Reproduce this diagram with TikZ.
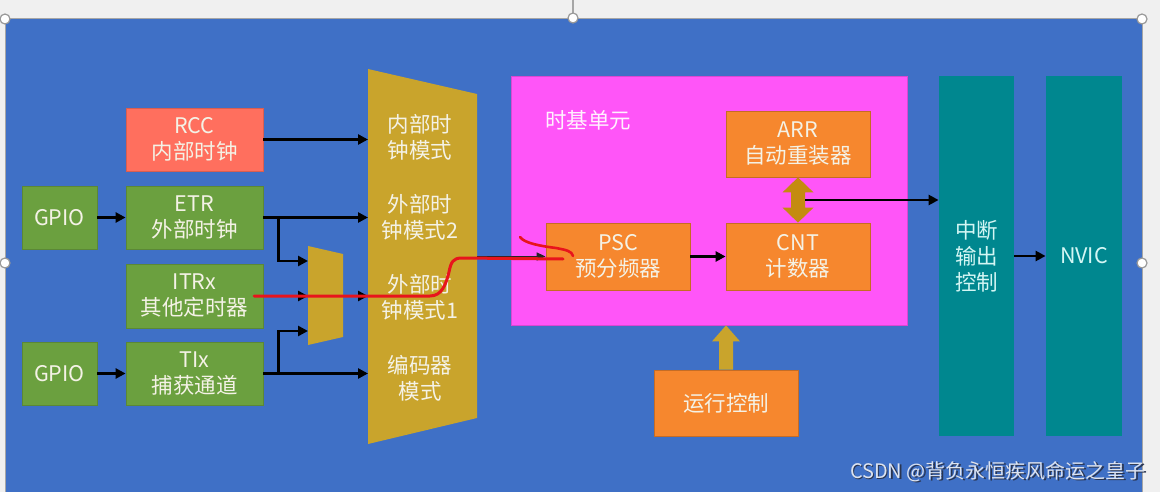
\documentclass[tikz,border=0pt]{standalone}
\usepackage{fontspec}
\setmainfont{Noto Sans CJK SC}
\usetikzlibrary{arrows.meta,calc}
\definecolor{pagegray}{HTML}{F0F0F0}
\definecolor{bgblue}{HTML}{3F70C6}
\definecolor{salmon}{HTML}{FF6F5E}
\definecolor{grn}{HTML}{6BA03F}
\definecolor{gold}{HTML}{C9A42C}
\definecolor{pinkc}{HTML}{FF55F8}
\definecolor{orng}{HTML}{F6872E}
\definecolor{dgold}{HTML}{C48B10}
\definecolor{teal}{HTML}{00878F}
\definecolor{txtc}{HTML}{F4F2E6}
\definecolor{tealtxt}{HTML}{D4F6F4}
\definecolor{redpen}{HTML}{E8141C}
\definecolor{wmark}{HTML}{DCE3F0}
\definecolor{wshadow}{HTML}{2A3550}
\begin{document}
\begin{tikzpicture}[x=1pt,y=-1pt,
  boxbase/.style={inner sep=0pt, align=center, text=txtc, font=\fontsize{21.5}{26}\selectfont, line width=0.8pt},
  greenbox/.style={boxbase, fill=grn, draw=grn!85!black, minimum width=137pt, minimum height=63pt},
  gpiobox/.style={boxbase, fill=grn, draw=grn!85!black, minimum width=75pt, minimum height=63pt},
  orangebox/.style={boxbase, fill=orng, draw=orng!80!black, minimum width=144pt, minimum height=66pt},
  tealbox/.style={boxbase, fill=teal, text=tealtxt, minimum width=76pt, minimum height=360pt},
  modetext/.style={inner sep=0pt, align=center, text=txtc, font=\fontsize{21.5}{26}\selectfont},
  conn/.style={line width=2.6pt, black, line join=miter, -{Triangle[length=10pt,width=10pt]}},
  thinconn/.style={line width=1.6pt, black!85, -{Triangle[length=9pt,width=8pt]}},
  redink/.style={draw=redpen, line width=3pt, line cap=round, line join=round},
  handle/.style={circle, fill=white, draw=gray!80, line width=1.2pt, minimum size=10pt, inner sep=0pt}
]
\useasboundingbox (0,0) rectangle (1160,492);
\fill[pagegray] (0,0) rectangle (1160,492);
% main blue panel
\draw[gray!70, line width=1pt, fill=bgblue] (5,19) rectangle (1142,500);
\draw[gray!70, line width=1.2pt] (573,0) -- (573,13);

% big mode-select trapezoid
\fill[gold] (368,69) -- (477,94) -- (477,418) -- (368,444) -- cycle;
\coordinate (tzL) at (368,256);
\coordinate (tzR) at (477,256);
% small mux trapezoid
\fill[gold] (308,246) -- (343,254) -- (343,337) -- (308,345) -- cycle;
\coordinate (muxL) at (308,296);
\coordinate (muxR) at (343,296);

\node[modetext] (m1) at (420,137) {内部时\\钟模式};
\node[modetext] (m2) at (420,217) {外部时\\钟模式2};
\node[modetext] (m3) at (420,297) {外部时\\钟模式1};
\node[modetext] (m4) at (420,378) {编码器\\模式};

% left boxes
\node[greenbox, fill=salmon, draw=salmon!85!black] (rcc) at (194.5,139.5) {RCC\\内部时钟};
\node[greenbox] (etr) at (194.5,217.5) {ETR\\外部时钟};
\node[greenbox, minimum height=64pt] (itrx) at (194.5,296) {ITRx\\其他定时器};
\node[greenbox] (tix) at (194.5,373.5) {TIx\\捕获通道};
\node[gpiobox] (gpio1) at (59.5,217.5) {GPIO};
\node[gpiobox] (gpio2) at (59.5,373.5) {GPIO};

% time base unit
\node[boxbase, fill=pinkc, draw=pinkc!85!black, minimum width=396pt, minimum height=249pt] (tbu) at (709,200.5) {};
\node[modetext, text=white!92!pinkc] (tbulabel) at (588,120) {时基单元};
\node[orangebox] (arr) at (798,144) {ARR\\自动重装器};
\node[orangebox, minimum height=67pt] (psc) at (618,256.5) {PSC\\预分频器};
\node[orangebox, minimum height=67pt] (cnt) at (798,256.5) {CNT\\计数器};
\node[orangebox] (run) at (726,403) {运行控制};

% interrupt / NVIC
\node[tealbox, minimum width=75pt] (irq) at (976.5,256) {中断\\输出\\控制};
\node[tealbox] (nvic) at (1084,256) {NVIC};

% connectors on the left
\draw[conn] (gpio1.east) -- (etr.west);
\draw[conn] (gpio2.east) -- (tix.west);
\draw[conn] (rcc.east) -- (rcc.east -| tzL);
\draw[conn] (etr.east) -- (etr.east -| tzL);
\draw[conn] (itrx.east) -- (itrx.east -| muxL);
\draw[conn] (muxR) -- (muxR -| tzL);
\draw[conn] (tix.east) -- (tix.east -| tzL);
\coordinate (br1) at ($(etr.east)+(15,0)$);
\coordinate (br2) at ($(tix.east)+(15,0)$);
\draw[conn] (br1) |- ($(muxL)+(0,-35)$);
\draw[conn] (br2) |- ($(muxL)+(0,35)$);

% into the time base unit
\draw[thinconn] (psc.west -| tzR) -- (psc.west);
\draw[conn] (psc.east) -- (cnt.west);

% ARR <-> CNT double block arrow
\coordinate (dtop) at (arr.south);
\coordinate (dbot) at (cnt.north);
\fill[dgold] (dtop) -- ($(dtop)+(15.5,15)$) -- ($(dtop)+(7,15)$) -- ($(dbot)+(7,-15)$) -- ($(dbot)+(15.5,-15)$)
  -- (dbot) -- ($(dbot)+(-15.5,-15)$) -- ($(dbot)+(-7,-15)$) -- ($(dtop)+(-7,15)$) -- ($(dtop)+(-15.5,15)$) -- cycle;
\coordinate (dmid) at ($(dtop)!0.5!(dbot)+(7,0)$);
\draw[conn] (dmid) -- (dmid -| irq.west);

% run control block arrow
\coordinate (utop) at (run.north |- tbu.south);
\coordinate (ubot) at (run.north);
\fill[gold] (utop) -- ($(utop)+(14,16)$) -- ($(utop)+(7,16)$) -- ($(ubot)+(7,0)$) -- ($(ubot)+(-7,0)$)
  -- ($(utop)+(-7,16)$) -- ($(utop)+(-14,16)$) -- cycle;

\draw[conn] (irq.east) -- (nvic.west);

% red pen annotation
\draw[redink] (254,296) -- (430,296) .. controls (442,296) and (446,284) .. (449,272)
  .. controls (451,262) and (453,258) .. (462,258) -- (563,259);
\draw[redink, line width=2.6pt] (520,237) .. controls (524,243) and (540,246) .. (556,248)
  .. controls (566,250) and (572,251) .. (573,256);

% selection handles
\node[handle] (h1) at (5,19) {};
\node[handle] (h2) at (573,18) {};
\node[handle] (h3) at (1142,19) {};
\node[handle] (h4) at (5,263) {};
\node[handle] (h5) at (1142,263) {};

% watermark
\node[anchor=east, inner sep=0pt, text=wshadow, font=\fontsize{20}{20}\selectfont] at (1147.2,473.2) {CSDN @背负永恒疾风命运之皇子};
\node[anchor=east, inner sep=0pt, text=wmark, font=\fontsize{20}{20}\selectfont] (wm) at (1146,472) {CSDN @背负永恒疾风命运之皇子};
\end{tikzpicture}
\end{document}
